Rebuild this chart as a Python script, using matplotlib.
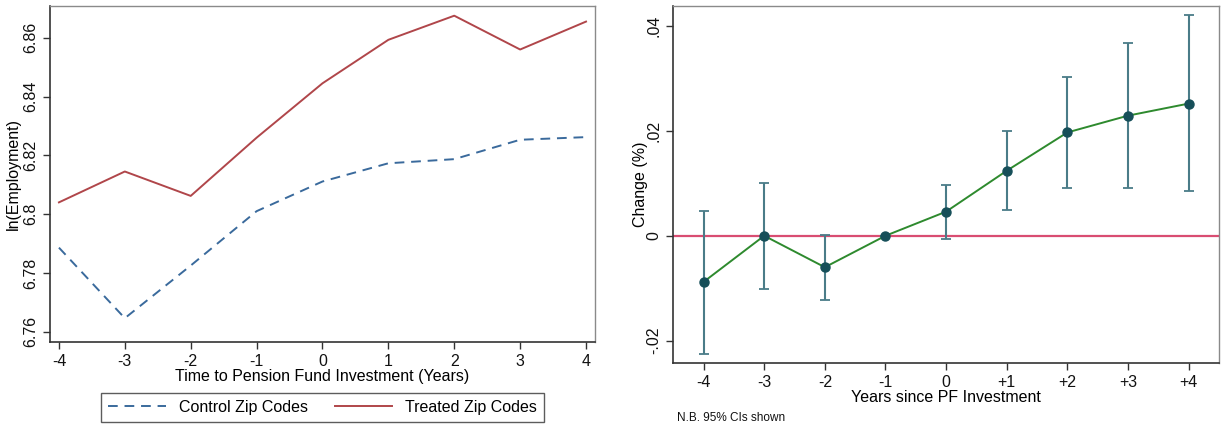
import matplotlib.pyplot as plt

plt.rcParams['font.family'] = ['Liberation Sans', 'DejaVu Sans']
plt.rcParams['axes.unicode_minus'] = False

# left panel: ln(employment) by event year
years = [-4, -3, -2, -1, 0, 1, 2, 3, 4]
control = [6.7886, 6.7646, 6.7825, 6.8010, 6.8111, 6.8173, 6.8187, 6.8253, 6.8262]
treated = [6.8040, 6.8145, 6.8062, 6.8260, 6.8445, 6.8593, 6.8675, 6.8560, 6.8655]
left_yticks = [6.76, 6.78, 6.80, 6.82, 6.84, 6.86]
left_ylabels = ["6.76", "6.78", "6.8", "6.82", "6.84", "6.86"]

# right panel: estimated change with 95% CIs
event_labels = ["-4", "-3", "-2", "-1", "0", "+1", "+2", "+3", "+4"]
coef = [-0.0088, 0.0000, -0.0060, 0.0000, 0.0046, 0.0124, 0.0197, 0.0229, 0.0252]
ci_low = [-0.0225, -0.0101, -0.0122, 0.0000, -0.0006, 0.0050, 0.0092, 0.0092, 0.0086]
ci_high = [0.0048, 0.0100, 0.0002, 0.0000, 0.0097, 0.0199, 0.0302, 0.0367, 0.0420]
right_yticks = [-0.02, 0.0, 0.02, 0.04]
right_ylabels = ["-.02", "0", ".02", ".04"]

fig = plt.figure(figsize=(12.25, 4.29), dpi=100)
ax1 = fig.add_axes([0.0408, 0.2028, 0.4449, 0.7832])
ax2 = fig.add_axes([0.5496, 0.1538, 0.4455, 0.8322])


def style(ax):
    for s in ["left", "bottom"]:
        ax.spines[s].set_color("#333333")
        ax.spines[s].set_linewidth(1.2)
    for s in ["top", "right"]:
        ax.spines[s].set_color("#8a8a8a")
        ax.spines[s].set_linewidth(1.0)
    ax.tick_params(direction="out", length=5, width=1, color="#333333",
                   labelsize=11.5, labelcolor="#111111")
    ax.tick_params(axis="y", labelrotation=90)
    for lab in ax.get_yticklabels():
        lab.set_va("center")


ax1.plot(years, control, color="#3a6a9c", lw=1.4, ls=(0, (5, 3.5)),
         label="Control Zip Codes")
ax1.plot(years, treated, color="#b0464a", lw=1.4, label="Treated Zip Codes")
ax1.set_xlim(-4.136, 4.136)
ax1.set_ylim(6.7565, 6.8708)
ax1.set_xticks(years)
ax1.set_yticks(left_yticks)
ax1.set_yticklabels(left_ylabels)
ax1.set_xlabel("Time to Pension Fund Investment (Years)", fontsize=11.5, labelpad=0)
ax1.set_ylabel("ln(Employment)", fontsize=11.5, labelpad=1.5)
style(ax1)

fig.legend(loc="center", bbox_to_anchor=(0.2633, 0.05), ncol=2, frameon=True,
           fancybox=False, edgecolor="#333333", fontsize=11.5, handlelength=3.6,
           columnspacing=1.7, borderpad=0.45, handletextpad=0.8, borderaxespad=0)

ax2.axhline(0, color="#d94d72", lw=1.6, zorder=1)
ax2.errorbar(range(len(coef)), coef,
             yerr=[[c - lo for c, lo in zip(coef, ci_low)],
                   [hi - c for c, hi in zip(coef, ci_high)]],
             fmt="none", ecolor="#4a7c88", elinewidth=1.5, capsize=3.8, capthick=1.3,
             zorder=2)
ax2.plot(range(len(coef)), coef, color="#2e8a2e", lw=1.4, zorder=3)
ax2.plot(range(len(coef)), coef, "o", color="#164f59", ms=6.5, zorder=4)
ax2.set_xlim(-0.5, 8.5)
ax2.set_ylim(-0.02426, 0.0438)
ax2.set_xticks(range(len(event_labels)))
ax2.set_xticklabels(event_labels)
ax2.set_yticks(right_yticks)
ax2.set_yticklabels(right_ylabels)
ax2.set_xlabel("Years since PF Investment", fontsize=11.5, labelpad=0)
ax2.set_ylabel("Change (%)", fontsize=11.5, labelpad=-1)
style(ax2)

fig.text(0.5527, 0.026, "N.B. 95% CIs shown", fontsize=8.5, color="#111111",
         va="center", ha="left")

fig.savefig("out.png", dpi=100, facecolor="white")
